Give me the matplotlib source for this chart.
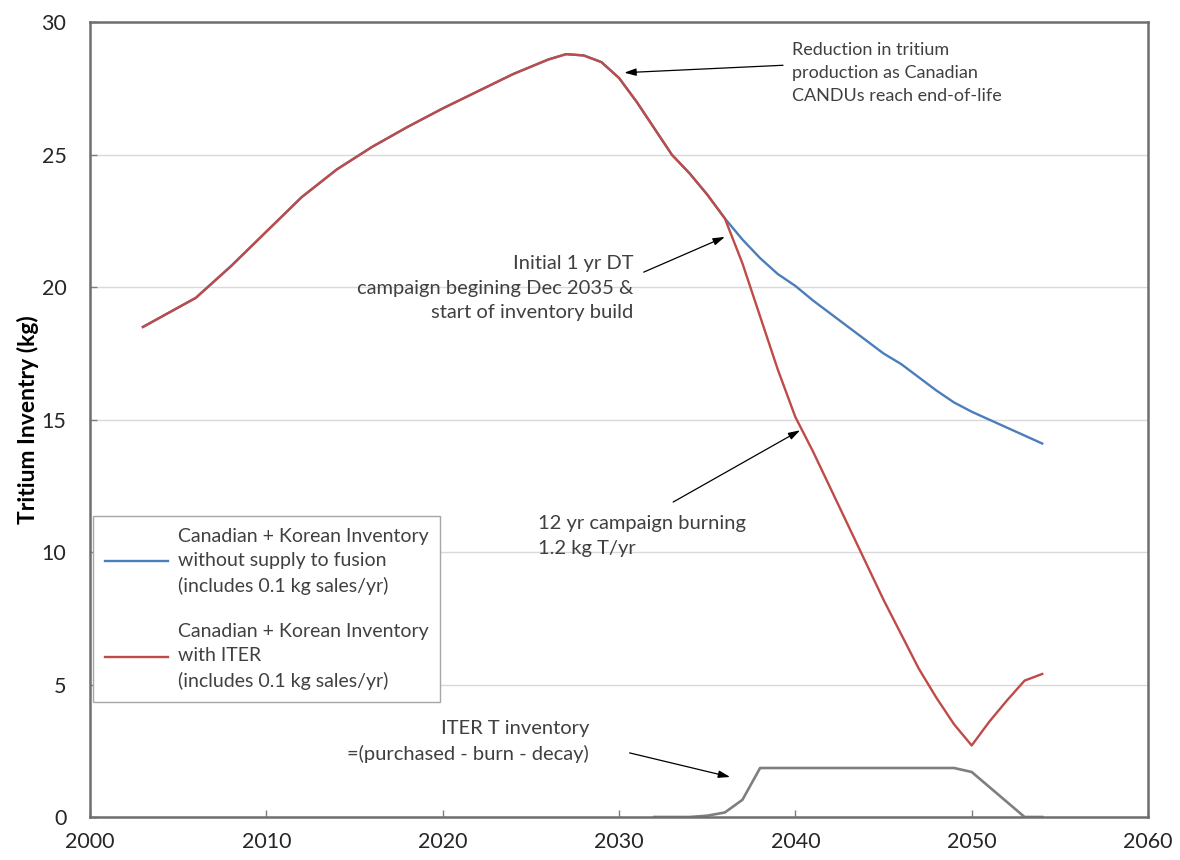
import matplotlib.pyplot as plt

plt.rcParams['font.family'] = ['Lato', 'DejaVu Sans']

# inventory without any supply to fusion (kg)
years_base = [2003, 2006, 2008, 2010, 2012, 2014, 2016, 2018, 2020, 2022, 2024,
              2026, 2027, 2028, 2029, 2030, 2031, 2032, 2033, 2034, 2035, 2036,
              2037, 2038, 2039, 2040, 2041, 2042, 2043, 2044, 2045, 2046, 2047,
              2048, 2049, 2050, 2051, 2052, 2053, 2054]
inv_base = [18.5, 19.6, 20.8, 22.1, 23.4, 24.45, 25.3, 26.05, 26.75, 27.4, 28.05,
            28.6, 28.8, 28.75, 28.5, 27.9, 27.0, 26.0, 25.0, 24.3, 23.5, 22.6,
            21.8, 21.1, 20.5, 20.05, 19.5, 19.0, 18.5, 18.0, 17.5, 17.1, 16.6,
            16.1, 15.65, 15.3, 15.0, 14.7, 14.4, 14.1]

# inventory with ITER drawing on it (kg)
years_iter = years_base
inv_iter = [18.5, 19.6, 20.8, 22.1, 23.4, 24.45, 25.3, 26.05, 26.75, 27.4, 28.05,
            28.6, 28.8, 28.75, 28.5, 27.9, 27.0, 26.0, 25.0, 24.3, 23.5, 22.6,
            20.9, 18.9, 16.9, 15.1, 13.8, 12.4, 11.0, 9.6, 8.2, 6.9, 5.6,
            4.5, 3.5, 2.7, 3.6, 4.4, 5.15, 5.4]

# ITER site inventory = purchased - burn - decay (kg)
years_site = [2032, 2034, 2035, 2036, 2037, 2038, 2049, 2050, 2053, 2054]
inv_site = [0, 0, 0.05, 0.17, 0.65, 1.85, 1.85, 1.7, 0, 0]

blue = '#4a7ebb'
red = '#be4b48'
grey = '#7f7f7f'

fig = plt.figure(figsize=(11.8, 8.6), dpi=100)
ax = fig.add_axes([0.0763, 0.05, 0.8966, 0.924])

ax.plot(years_base, inv_base, color=blue, lw=1.7,
        label='Canadian + Korean Inventory\nwithout supply to fusion\n(includes 0.1 kg sales/yr)')
ax.plot(years_iter, inv_iter, color=red, lw=1.7,
        label='Canadian + Korean Inventory\nwith ITER\n(includes 0.1 kg sales/yr)')
ax.plot(years_site, inv_site, color=grey, lw=1.9)

ax.set_xlim(2000, 2060)
ax.set_ylim(0, 30)
ax.set_xticks(range(2000, 2061, 10))
ax.set_yticks(range(0, 31, 5))
ax.grid(axis='y', color='#d9d9d9', lw=1.0)
ax.set_axisbelow(True)
ax.tick_params(direction='in', length=5, width=1, colors='#7f7f7f',
               labelcolor='#262626', labelsize=15.5)
ax.tick_params(axis='y', pad=17)
ax.tick_params(axis='x', pad=11)
for s in ax.spines.values():
    s.set_color('#6e6e6e')
    s.set_linewidth(1.8)

ax.set_ylabel('Tritium Inventry (kg)', fontsize=16.5, fontweight='bold', labelpad=2)

txt = dict(color='#404040', linespacing=1.55)
arrow = dict(arrowstyle='-|>,head_length=0.7,head_width=0.22', color='black',
             lw=0.9, shrinkA=0, shrinkB=0)

ax.text(2039.8, 28.1, 'Reduction in tritium\nproduction as Canadian\nCANDUs reach end-of-life',
        ha='left', va='center', fontsize=13, **txt)
ax.annotate('', xy=(2030.3, 28.1), xytext=(2039.3, 28.38), arrowprops=arrow)

ax.text(2030.8, 19.96, 'Initial 1 yr DT\ncampaign begining Dec 2035 &\nstart of inventory build',
        ha='right', va='center', multialignment='right', fontsize=14.5, **txt)
ax.annotate('', xy=(2036.0, 21.9), xytext=(2031.4, 20.57), arrowprops=arrow)

ax.text(2025.4, 10.62, '12 yr campaign burning\n1.2 kg T/yr', ha='left', va='center',
        fontsize=14.5, **txt)
ax.annotate('', xy=(2040.27, 14.6), xytext=(2033.07, 11.89), arrowprops=arrow)

ax.text(2028.3, 2.85, 'ITER T inventory\n=(purchased - burn - decay)',
        ha='right', va='center', multialignment='right', fontsize=14.5, **txt)
ax.annotate('', xy=(2036.3, 1.51), xytext=(2030.6, 2.42), arrowprops=arrow)

leg = ax.legend(loc='lower left', bbox_to_anchor=(0.003, 0.145), borderaxespad=0,
                fontsize=14, handlelength=3.25, handletextpad=0.5, borderpad=0.6,
                labelspacing=1.45, fancybox=False, framealpha=1, edgecolor='#a6a6a6')
leg.get_frame().set_linewidth(1.0)
for t in leg.get_texts():
    t.set_color('#404040')
    t.set_linespacing(1.52)

fig.savefig('out.png', dpi=100)
